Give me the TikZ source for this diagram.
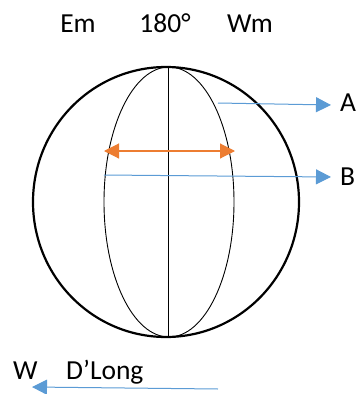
\documentclass[tikz,border=0pt]{standalone}
\usepackage{fontspec}
\setmainfont{Carlito}
\usetikzlibrary{arrows.meta}
\definecolor{oblue}{HTML}{5B9BD5}
\definecolor{oorange}{HTML}{ED7D31}
\tikzset{
  lbl/.style={font=\fontsize{27.5}{30}\selectfont, inner sep=0pt, anchor=base},
  bluearrow/.style={draw=oblue, line width=1pt, -{Triangle[length=15pt,width=15pt]}},
  orangearrow/.style={draw=oorange, line width=1.1pt, {Triangle[length=15pt,width=15pt]}-{Triangle[length=15pt,width=15pt]}},
  globe/.style={draw=black, line width=2.2pt},
  meridian/.style={draw=black, line width=0.9pt}
}
\begin{document}
\begin{tikzpicture}[x=1pt,y=-1pt]
\useasboundingbox (0,0) rectangle (360,394);
% globe
\coordinate (C) at (166,202);
\coordinate (N) at (168,67);
\coordinate (S) at (168,337);
\draw[globe] (C) ellipse [x radius=133, y radius=135];
\draw[meridian] (169,202) ellipse [x radius=65, y radius=135];
\draw[meridian] (N) -- (S);
% labels
\node[lbl] (Em) at (78,32) {Em};
\node[lbl] (deg) at (165,32) {180°};
\node[lbl] (Wm) at (250,32) {Wm};
\node[lbl, anchor=base west] (A) at (340,111) {A};
\node[lbl, anchor=base west] (B) at (340,185) {B};
\node[lbl, anchor=base west] (W) at (13,379) {W};
\node[lbl, anchor=base west] (DL) at (66,379) {D’Long};
% arrows
\coordinate (a0) at (218,103);
\coordinate (a1) at (331,105);
\draw[bluearrow] (a0) -- (a1);
\coordinate (b0) at (104,175);
\coordinate (b1) at (331,177);
\draw[bluearrow] (b0) -- (b1);
\coordinate (o0) at (104,151);
\coordinate (o1) at (235,151);
\draw[orangearrow] (o0) -- (o1);
\coordinate (w0) at (218,389);
\coordinate (w1) at (32,387);
\draw[bluearrow] (w0) -- (w1);
\end{tikzpicture}
\end{document}
